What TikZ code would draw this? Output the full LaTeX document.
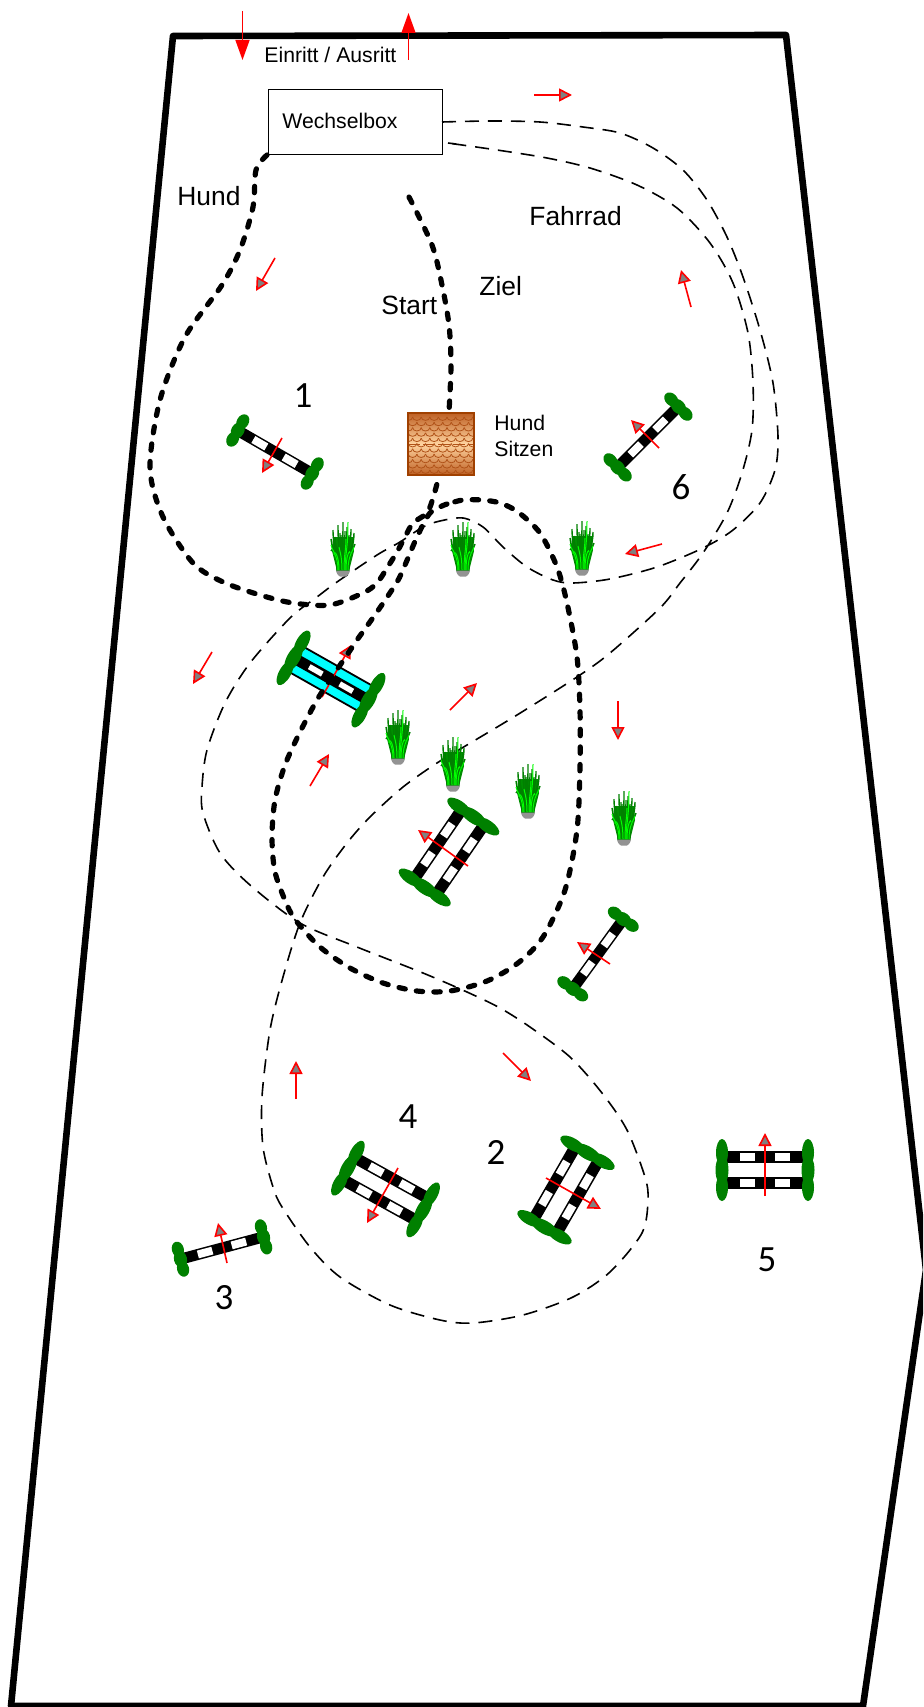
\documentclass[tikz,border=0pt]{standalone}
\usepackage{fontspec}
\setmainfont{Liberation Sans}
\newfontfamily\numfont{Carlito}
\usetikzlibrary{arrows.meta}
\definecolor{bushgreen}{RGB}{0,128,0}
\definecolor{headgray}{RGB}{128,128,128}
\definecolor{brickdark}{RGB}{160,64,0}
\definecolor{brickmid}{RGB}{190,96,36}
\definecolor{bricklight}{RGB}{255,212,160}
\definecolor{brickline}{RGB}{176,82,24}
\definecolor{wateraqua}{RGB}{0,255,255}
\tikzset{
  frameline/.style={line width=3.3pt,line join=round,line cap=round},
  bikepath/.style={line width=.8pt,dash pattern=on 7pt off 4.5pt},
  dogpath/.style={line width=2.6pt,line cap=round,dash pattern=on 3.2pt off 5.6pt},
  dirarrow/.style={red,line width=.8pt,-{Triangle[length=6.5pt,width=6.5pt,fill=headgray]}},
  bigarrow/.style={red,line width=.7pt,-{Triangle[length=10pt,width=7pt,fill=red]}},
  biglabel/.style={inner sep=0pt,font=\fontsize{13.2}{15}\selectfont},
  smalllabel/.style={inner sep=0pt,font=\fontsize{10.6}{12}\selectfont},
  numlabel/.style={inner sep=0pt,font=\numfont\fontsize{18.5}{20}\selectfont},
}
% green upright at local x=#1 with total length #2
\newcommand{\bushend}[2]{%
  \fill[bushgreen] (#1,-#2*.28) ellipse[x radius=6,y radius=#2*.22];
  \fill[bushgreen] (#1,0) ellipse[x radius=6.5,y radius=#2*.24];
  \fill[bushgreen] (#1,#2*.28) ellipse[x radius=6,y radius=#2*.22];
}
% striped bar at local y=#1 with width #2, half length #3
\newcommand{\stripebar}[3]{%
  \fill[black] (-#3,#1-#2/2) rectangle (#3,#1+#2/2);
  \fill[white] (-25,#1-#2*.36) rectangle (-10,#1+#2*.36);
  \fill[white] (10,#1-#2*.36) rectangle (25,#1+#2*.36);
}
\newcommand{\singlejump}[3]{%
  \begin{scope}[shift={(#1,#2)},rotate=#3]
    \stripebar{0}{11}{40}
    \bushend{-43}{36}\bushend{43}{36}
  \end{scope}}
\newcommand{\doublejump}[4]{%
  \begin{scope}[shift={(#1,#2)},rotate=#3]
    \stripebar{-#4/2}{11.5}{40}\stripebar{#4/2}{11.5}{40}
    \bushend{-43}{62}\bushend{43}{62}
  \end{scope}}
\newcommand{\waterjump}[3]{%
  \begin{scope}[shift={(#1,#2)},rotate=#3]
    \filldraw[fill=wateraqua,draw=black,line width=.9pt] (-40,-14.5) rectangle (40,14.5);
    \fill[black] (-40,-5.5) rectangle (40,5.5);
    \fill[white] (-25,-2.8) rectangle (-10,2.8);
    \fill[white] (10,-2.8) rectangle (25,2.8);
    \bushend{-43}{62}\bushend{43}{62}
  \end{scope}}
% plant: #1,#2 = bottom centre of the pot
\newcommand{\plantgrass}[2]{%
  \begin{scope}[shift={(#1,#2)}]
    \fill[bushgreen!88!green] (-6,-6) -- (-11,-26) -- (-10,-40) -- (10,-40) -- (11,-26) -- (6,-6) -- cycle;
    \foreach \a/\b/\c in {-6/-12/-38,-5/-10/-47,-4/-8/-40,-3/-5/-52,-2/-3/-44,-1/0/-55,0/2/-46,1/4/-50,2/6/-42,3/8/-48,4/10/-38,5/12/-33,6/11/-44,-6/-12/-26,-4/-6/-30,2/1/-34,0/-2/-42,4/7/-28}
      \draw[bushgreen,line width=.7pt] (\a,-6) .. controls (\a,-25) and (\b,-30) .. (\b,\c);
    \foreach \a/\b/\c in {-5/-12/-32,-1/-4/-30,2/5/-55,5/11/-30,-4/-9/-22,3/7/-24,1/3/-38}
      \draw[green,line width=.5pt] (\a,-7) .. controls (\a,-22) and (\b,-28) .. (\b,\c);
    \fill[headgray!85!white] (-7,-6.5) -- (7,-6.5) .. controls (6,-2) and (4,-1) .. (3,-.5) -- (-3,-.5) .. controls (-4,-1) and (-6,-2) .. (-7,-6.5) -- cycle;
  \end{scope}}
\begin{document}
\begin{tikzpicture}[x=.5pt,y=-.5pt]
\useasboundingbox (0,0) rectangle (923,1707);
\fill[white] (0,0) rectangle (923,1707);
\clip (0,0) rectangle (923,1707);
% frame
\draw[frameline] (173,36) -- (786,35) -- (926,1270) -- (863,1706) -- (11,1706) -- cycle;
% bicycle track
\draw[bikepath] plot[smooth] coordinates {(442,122)(490,121)(540,122)(583,127)(620,133)(653,148)(683,170)(707,200)(727,237)(743,277)(760,330)(773,383)(778,437)(775,470)(760,503)(733,530)(703,548)(657,567)(610,579)(573,583)(553,580)(527,567)(503,547)(483,527)(463,518)(440,521)(423,527)(400,542)(377,555)(337,582)(317,597)(290,618)(250,663)(225,703)(207,750)(202,787)(203,813)(220,853)(250,885)(300,923)(357,947)(423,973)(467,992)(500,1008)(530,1027)(570,1057)(602,1093)(627,1130)(645,1177)(648,1200)(642,1233)(610,1272)(573,1297)(523,1315)(473,1323)(440,1320)(390,1305)(340,1277)(310,1247)(282,1207)(273,1187)(263,1147)(262,1097)(270,1030)(283,977)(300,923)(323,877)(347,843)(370,817)(403,787)(437,763)(467,745)(517,715)(577,677)(610,653)(660,608)(680,583)(703,553)(727,513)(742,473)(752,430)(753,383)(748,333)(733,283)(710,243)(677,208)(637,185)(590,168)(547,158)(497,150)(444,142.5)};
\draw[line width=.8pt] (448,143) -- (456,144);
% box
\node[draw,line width=.75pt,minimum width=87pt,minimum height=32.5pt,inner sep=0pt,outer sep=0pt] (box) at (355.5,122) {};
\node[smalllabel,anchor=west] (boxtext) at (282,120.5) {Wechselbox};
% square
\begin{scope}
  \clip (408,413) rectangle (474,475);
  \shade[top color=brickmid,bottom color=brickmid,middle color=bricklight] (408,413) rectangle (474,475);
  \foreach \r in {0,...,11}{
    \pgfmathsetmacro{\yy}{417+\r*5.3}
    \pgfmathsetmacro{\xs}{mod(\r,2)==0 ? 404 : 408.3}
    \foreach \c in {0,...,8}{
      \pgfmathsetmacro{\xx}{\xs+\c*8.6}
      \draw[brickline,line width=.4pt] (\xx,\yy) arc[start angle=180,end angle=360,x radius=4.3,y radius=-3.4];
    }
  }
  \draw[brickline,line width=.5pt,dash pattern=on 6pt off 1.5pt] (408,444) -- (474,444);
\end{scope}
\draw[brickdark,line width=.9pt] (408,413) rectangle (474,475);
% jumps
\singlejump{275}{452}{-30}
\singlejump{648}{437}{45}
\singlejump{598}{954}{54}
\singlejump{222}{1248}{15}
\waterjump{331}{679}{-29.5}
\doublejump{449}{852}{55.6}{27}
\doublejump{385.5}{1189}{-29}{25}
\doublejump{566}{1190}{60}{27}
\doublejump{765}{1170}{0}{26}
% plants
\plantgrass{343}{577}
\plantgrass{463}{577}
\plantgrass{582}{576}
\plantgrass{398}{765}
\plantgrass{453}{792}
\plantgrass{528}{819}
\plantgrass{624}{846}
% arrows
\draw[bigarrow] (242.5,11) -- (242.5,60);
\draw[bigarrow] (408.5,60) -- (408.5,13);
\foreach \xa/\ya/\xb/\yb in {534/95/572/95,691/307/681/270,659/448/631/420,662/544/625/554,275/258/256/291,282/438/262/473,212/652/193/684,322/697/351/645,450/710/477/683,310/786/329/754,468/866/418/830,610/964/577/942,618/701/618/740,296/1099/296/1061,503/1053/531/1081,398/1168/367/1223,546/1178/601/1209,765/1196/765/1133,227/1263/218/1223}
  \draw[dirarrow] (\xa,\ya) -- (\xb,\yb);
% dog track
\draw[dogpath] plot[smooth] coordinates {(267,155)(256,170)(253,207)(240,250)(222,285)(185,337)(160,400)(150,468)(163,517)(193,563)(223,582)(260,595)(293,603)(330,605)(363,593)(377,583)(387,568)(397,552)(405,537)(413,523)(427,513)(433,498)(438,480)};
\draw[dogpath] plot[smooth] coordinates {(447,504)(430,513)(417,537)(405,565)(397,582)(377,612)(357,640)(347,655)(332,677)(317,700)(300,732)(285,765)(275,800)(272,837)(275,872)(287,905)(297,922)(320,947)(350,968)(383,983)(417,991)(450,991)(487,981)(518,963)(543,937)(565,890)(577,830)(580,767)(580,710)(577,657)(567,603)(557,567)(540,533)(518,512)(500,503)(482,500)(463,500)(447,504)};
\draw[dogpath] plot[smooth] coordinates {(409,197)(432,245)(442,285)(449,325)(451,365)(449,412)};
% labels
\node[smalllabel,anchor=west] (gate) at (264,55) {Einritt / Ausritt};
\node[biglabel,anchor=west] (hund) at (177,196) {Hund};
\node[biglabel,anchor=west] (fahrrad) at (529,216) {Fahrrad};
\node[biglabel,anchor=west] (ziel) at (479,286) {Ziel};
\node[biglabel,anchor=west] (start) at (381,305.5) {Start};
\node[smalllabel,anchor=west] (hund2) at (494,423) {Hund};
\node[smalllabel,anchor=west] (sitzen) at (494,449) {Sitzen};
\node[numlabel] (n1) at (303,396) {1};
\node[numlabel] (n6) at (681,487) {6};
\node[numlabel] (n4) at (408,1117) {4};
\node[numlabel] (n2) at (496,1152) {2};
\node[numlabel] (n3) at (224,1298) {3};
\node[numlabel] (n5) at (767,1260) {5};
\end{tikzpicture}
\end{document}
